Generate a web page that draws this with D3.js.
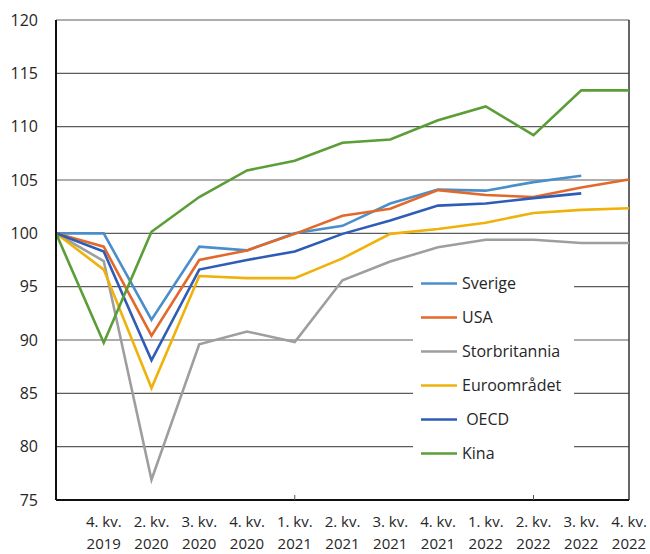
<!DOCTYPE html>
<html>
<head>
<meta charset="utf-8">
<script src="https://cdn.jsdelivr.net/npm/d3@7"></script>
<style>
  body { margin: 0; background: #fff; }
  svg { display: block; font-family: "Open Sans", sans-serif; }
</style>
</head>
<body>
<div id="chart"></div>
<script>
// kvartaler (13 punkter), etiketter som i originalen
const kvartaler = ['2019K4', '2020K1', '2020K2', '2020K3', '2020K4', '2021K1', '2021K2',
                   '2021K3', '2021K4', '2022K1', '2022K2', '2022K3', '2022K4'];
const etiketter = ['', '4. kv. 2019', '2. kv. 2020', '3. kv. 2020', '4. kv. 2020', '1. kv. 2021',
                   '2. kv. 2021', '3. kv. 2021', '4. kv. 2021', '1. kv. 2022', '2. kv. 2022',
                   '3. kv. 2022', '4. kv. 2022'];
const yTicks = [75, 80, 85, 90, 95, 100, 105, 110, 115, 120];

const sverige = [100, 100, 91.9, 98.75, 98.4, 100.0, 100.7, 102.8, 104.1, 104.0, 104.8, 105.4, null];
const usa = [100, 98.75, 90.4, 97.5, 98.4, 99.95, 101.65, 102.3, 104.05, 103.6, 103.4, 104.3, 105.05];
const storbritannia = [100, 97.4, 76.9, 89.6, 90.8, 89.8, 95.6, 97.35, 98.7, 99.4, 99.4, 99.1, 99.1];
const euroomradet = [100, 96.6, 85.5, 96.0, 95.8, 95.8, 97.65, 99.95, 100.4, 101.0, 101.9, 102.2, 102.35];
const oecd = [100, 98.3, 88.1, 96.6, 97.5, 98.3, 99.95, 101.2, 102.6, 102.8, 103.3, 103.75, null];
const kina = [100, 89.75, 100.15, 103.4, 105.9, 106.8, 108.5, 108.8, 110.6, 111.9, 109.2, 113.4, 113.4];

const serier = [
  { navn: 'Sverige', verdier: sverige, farge: '#4a8fcb' },
  { navn: 'USA', verdier: usa, farge: '#e2692a' },
  { navn: 'Storbritannia', verdier: storbritannia, farge: '#9e9e9e' },
  { navn: 'Euroområdet', verdier: euroomradet, farge: '#efb20a' },
  { navn: ' OECD', verdier: oecd, farge: '#2e5cb6' },
  { navn: 'Kina', verdier: kina, farge: '#5b9d37' }
];

const width = 650, height = 554;
const margin = { top: 20, right: 21, bottom: 54, left: 56 };

const svg = d3.select('#chart')
  .append('svg')
    .attr('width', width)
    .attr('height', height);

const x = d3.scalePoint()
  .domain(kvartaler)
  .range([margin.left, width - margin.right]);

const y = d3.scaleLinear()
  .domain([75, 120])
  .range([height - margin.bottom, margin.top]);

// Rutenett
svg.append('g')
  .selectAll('line')
  .data(yTicks.filter(d => d > 75))
  .enter()
  .append('line')
    .attr('x1', margin.left)
    .attr('x2', width - margin.right)
    .attr('y1', d => y(d))
    .attr('y2', d => y(d))
    .attr('stroke', '#5c5c5c')
    .attr('stroke-width', 1.2);

// Høyre ramme
svg.append('line')
  .attr('x1', width - margin.right).attr('x2', width - margin.right)
  .attr('y1', y(120)).attr('y2', y(75))
  .attr('stroke', '#333')
  .attr('stroke-width', 1.5);

// Y-akse etiketter
svg.append('g')
  .selectAll('text')
  .data(yTicks)
  .enter()
  .append('text')
    .attr('x', 38)
    .attr('y', d => y(d))
    .attr('dy', '0.35em')
    .attr('text-anchor', 'end')
    .attr('font-size', 16)
    .attr('fill', '#262626')
    .text(d => d);

// Linjer
const linje = d3.line()
  .defined(d => d != null)
  .x((d, i) => x(kvartaler[i]))
  .y(d => y(d));

svg.append('g')
  .selectAll('path')
  .data(serier)
  .enter()
  .append('path')
    .attr('d', d => linje(d.verdier))
    .attr('fill', 'none')
    .attr('stroke', d => d.farge)
    .attr('stroke-width', 2.6)
    .attr('stroke-linejoin', 'miter');

// Akser
svg.append('line')
  .attr('x1', margin.left).attr('x2', margin.left)
  .attr('y1', y(120)).attr('y2', y(75))
  .attr('stroke', '#111').attr('stroke-width', 2);

svg.append('line')
  .attr('x1', margin.left).attr('x2', width - margin.right)
  .attr('y1', y(75)).attr('y2', y(75))
  .attr('stroke', '#111').attr('stroke-width', 2.2);

// Små tikkmerker (hver 5. kategori)
svg.append('g')
  .selectAll('line')
  .data(kvartaler.filter((d, i) => i > 0 && i % 5 === 0))
  .enter()
  .append('line')
    .attr('x1', d => x(d)).attr('x2', d => x(d))
    .attr('y1', y(75)).attr('y2', y(75) - 5)
    .attr('stroke', '#555').attr('stroke-width', 1);

// X-akse etiketter (to linjer)
const xLab = svg.append('g')
  .selectAll('text')
  .data(kvartaler.map((k, i) => ({ k, tekst: etiketter[i] })).filter(d => d.tekst))
  .enter()
  .append('text')
    .attr('x', d => x(d.k))
    .attr('text-anchor', 'middle')
    .attr('font-size', 15)
    .attr('fill', '#262626');

xLab.append('tspan')
  .attr('x', d => x(d.k))
  .attr('y', 527)
  .text(d => d.tekst.split(' ').slice(0, 2).join(' '));

xLab.append('tspan')
  .attr('x', d => x(d.k))
  .attr('y', 549)
  .text(d => d.tekst.split(' ')[2]);

// Tegnforklaring
const leg = svg.append('g');
leg.append('rect')
  .attr('x', 413).attr('y', 266)
  .attr('width', 161).attr('height', 204)
  .attr('fill', '#fff');

const legRad = leg.selectAll('g')
  .data(serier)
  .enter()
  .append('g')
    .attr('transform', (d, i) => `translate(421,${283.5 + i * 34})`);

legRad.append('line')
  .attr('x1', 0).attr('x2', 36)
  .attr('stroke', d => d.farge)
  .attr('stroke-width', 2.6);

legRad.append('text')
  .attr('x', 41)
  .attr('dy', '0.35em')
  .attr('font-size', 16)
  .attr('fill', '#262626')
  .attr('xml:space', 'preserve')
  .style('white-space', 'pre')
  .text(d => d.navn);
</script>
</body>
</html>
